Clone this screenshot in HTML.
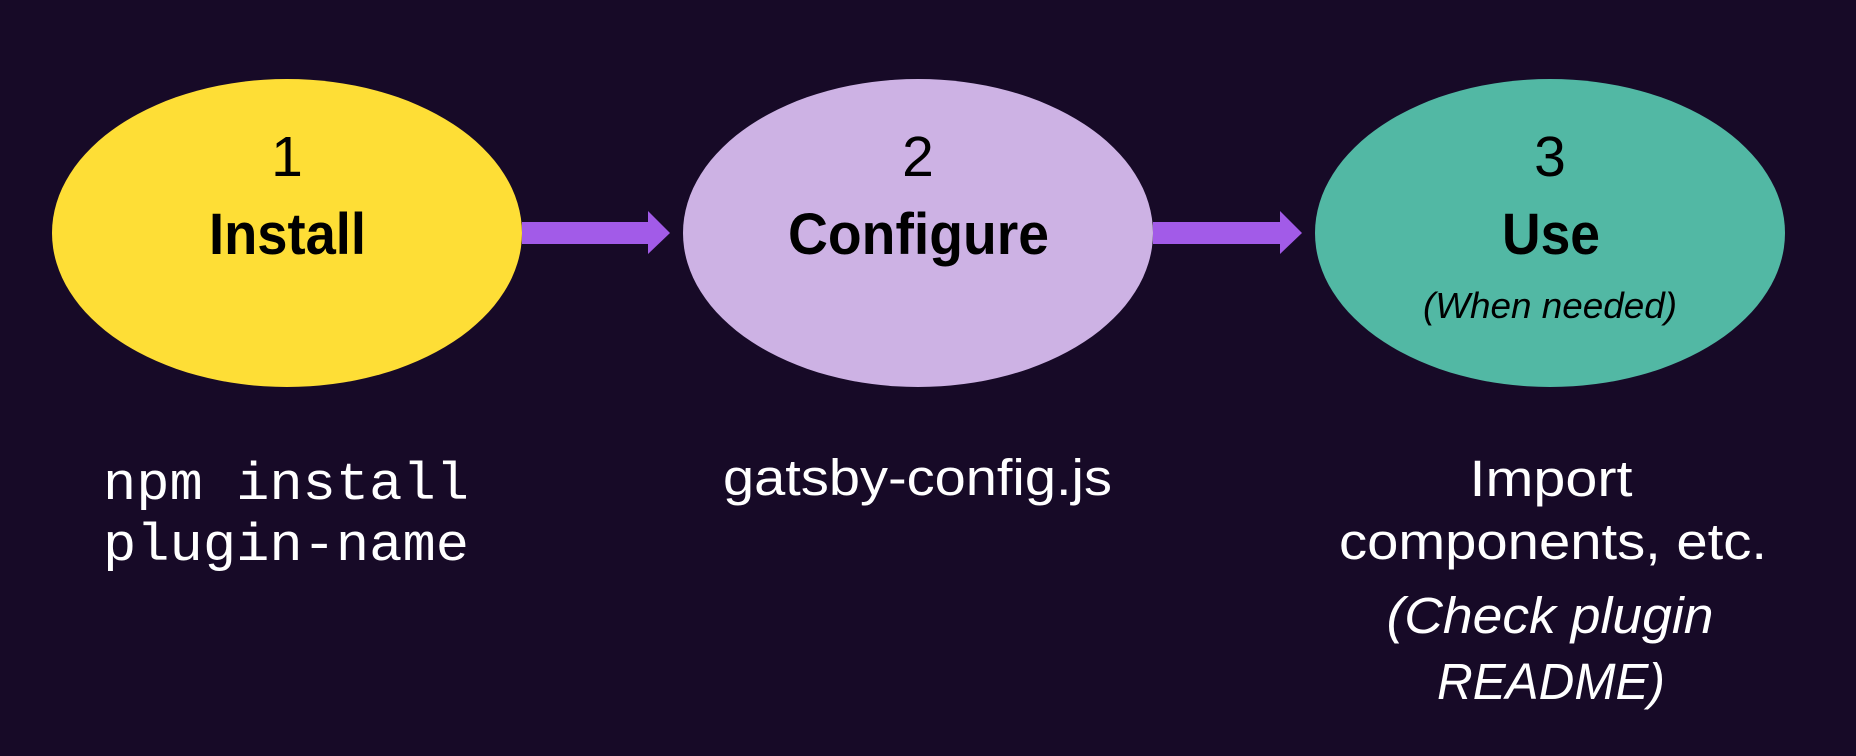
<!DOCTYPE html>
<html><head><meta charset="utf-8"><style>
html,body{margin:0;padding:0;background:#170a27;}
svg{display:block;}
</style></head><body>
<svg width="1856" height="756" viewBox="0 0 1856 756" xmlns="http://www.w3.org/2000/svg">
<rect width="1856" height="756" fill="#170a27"/>
<ellipse cx="287" cy="233" rx="235" ry="154" fill="#fede36"/>
<ellipse cx="918" cy="233" rx="235" ry="154" fill="#cdb2e4"/>
<ellipse cx="1550" cy="233" rx="235" ry="154" fill="#52b8a4"/>
<polygon points="522,222 648,222 648,211 670,233 648,254 648,244 522,244" fill="#a25be8"/>
<polygon points="1153,222 1280,222 1280,211 1302,233 1280,254 1280,244 1153,244" fill="#a25be8"/>
<g font-family="Liberation Sans, sans-serif" fill="#000" text-anchor="middle">
<text x="287" y="176" font-size="57">1</text>
<text x="918" y="176" font-size="57">2</text>
<text x="1550" y="176" font-size="57">3</text>
<g font-weight="bold" font-size="58">
<text x="287.5" y="254" textLength="157" lengthAdjust="spacingAndGlyphs">Install</text>
<text x="918.5" y="254" textLength="261" lengthAdjust="spacingAndGlyphs">Configure</text>
<text x="1551" y="254" textLength="98" lengthAdjust="spacingAndGlyphs">Use</text>
</g>
<text x="1550" y="318" font-size="36" font-style="italic" textLength="254" lengthAdjust="spacingAndGlyphs">(When needed)</text>
</g>
<g font-family="Liberation Mono, monospace" fill="#fff" font-size="53">
<text x="103" y="499" textLength="366" lengthAdjust="spacingAndGlyphs">npm install</text>
<text x="103" y="560" textLength="366" lengthAdjust="spacingAndGlyphs">plugin-name</text>
</g>
<g font-family="Liberation Sans, sans-serif" fill="#fff" font-size="51" text-anchor="middle">
<text x="917.5" y="495" textLength="389" lengthAdjust="spacingAndGlyphs">gatsby-config.js</text>
<text x="1551" y="496" textLength="163" lengthAdjust="spacingAndGlyphs">Import</text>
<text x="1553" y="559" textLength="428" lengthAdjust="spacingAndGlyphs">components, etc.</text>
<text x="1550" y="633" font-style="italic" textLength="327" lengthAdjust="spacingAndGlyphs">(Check plugin</text>
<text x="1551" y="699" font-style="italic" textLength="228" lengthAdjust="spacingAndGlyphs">README)</text>
</g>
</svg>
</body></html>
